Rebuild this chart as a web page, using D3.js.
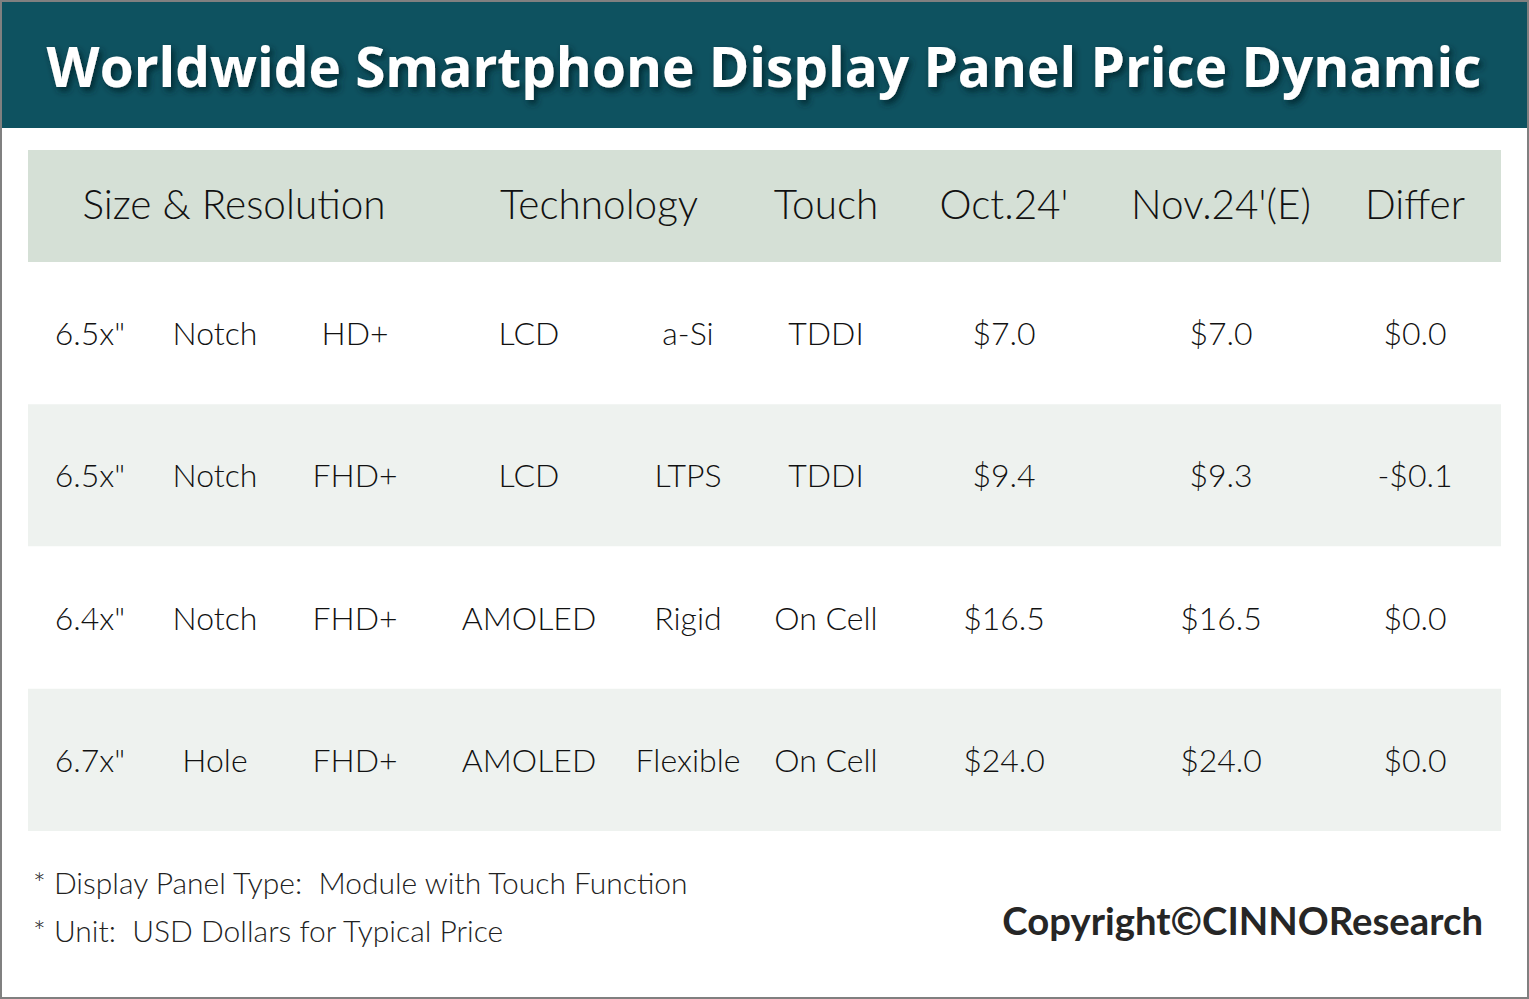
<!DOCTYPE html>
<html><head><meta charset="utf-8">
<script src="https://cdn.jsdelivr.net/npm/d3@7"></script>
<style>body{margin:0;background:#fff;overflow:hidden}text{white-space:pre}</style>
</head><body><svg id="c"></svg>
<script>
// ---- data ----
const title = "Worldwide Smartphone Display Panel Price Dynamic";
const headerLabels = ["Size & Resolution", "Technology", "Touch", "Oct.24'", "Nov.24'(E)", "Differ"];
const sizes = ['6.5x"', '6.5x"', '6.4x"', '6.7x"'];
const shapes = ["Notch", "Notch", "Notch", "Hole"];
const resolutions = ["HD+", "FHD+", "FHD+", "FHD+"];
const displayTypes = ["LCD", "LCD", "AMOLED", "AMOLED"];
const backplanes = ["a-Si", "LTPS", "Rigid", "Flexible"];
const touches = ["TDDI", "TDDI", "On Cell", "On Cell"];
const octPrices = [7.0, 9.4, 16.5, 24.0];
const novPrices = [7.0, 9.3, 16.5, 24.0];
const differ = [0.0, -0.1, 0.0, 0.0];
const notes = ["* Display Panel Type:  Module with Touch Function", "* Unit:  USD Dollars for Typical Price"];
const copyright = "Copyright©CINNOResearch";

// ---- layout ----
const W = 1529, H = 999;
const svg = d3.select("#c").attr("width", W).attr("height", H);
const fmt = v => (v < 0 ? "-" : "") + "$" + Math.abs(v).toFixed(1);

const defs = svg.append("defs");
const f = defs.append("filter").attr("id", "sh").attr("filterUnits", "userSpaceOnUse")
  .attr("x", 0).attr("y", 0).attr("width", W).attr("height", 128);
f.append("feDropShadow").attr("dx", 3).attr("dy", 4).attr("stdDeviation", 3)
  .attr("flood-color", "#00262e").attr("flood-opacity", 0.95);

// header band
svg.append("rect").attr("x", 1).attr("y", 1).attr("width", W - 2).attr("height", 127).attr("fill", "#0E5260");
const tt = svg.append("text").attr("x", 764).attr("y", 87).attr("text-anchor", "middle")
  .attr("font-family", "'Open Sans', sans-serif").attr("font-weight", 700).attr("font-size", 58)
  .attr("fill", "#fff").attr("filter", "url(#sh)")
  .text(title);
// fit title to the reference width
const tw = tt.node().getComputedTextLength();
tt.attr("font-size", 58 * 1435 / tw);

// table
const tableX0 = 28, tableX1 = 1501;
const headTop = 150, headBottom = 262, bodyBottom = 831;
const rowIdx = d3.range(sizes.length);
const y = d3.scaleBand().domain(rowIdx).range([headBottom, bodyBottom]);

const colKeys = ["size", "shape", "res", "disp", "bp", "touch", "oct", "nov", "diff"];
const colX = d3.scaleOrdinal().domain(colKeys).range([90, 215, 355, 529, 688, 826, 1004, 1221, 1415]);
const headX = d3.scaleOrdinal().domain(headerLabels).range([234, 599, 826, 1004, 1221, 1415]);

svg.append("rect").attr("x", tableX0).attr("y", headTop).attr("width", tableX1 - tableX0)
  .attr("height", headBottom - headTop).attr("fill", "#D5E0D6");

svg.selectAll("rect.row").data(rowIdx).join("rect").attr("class", "row")
  .attr("x", tableX0).attr("width", tableX1 - tableX0)
  .attr("y", d => y(d)).attr("height", y.bandwidth())
  .attr("fill", d => d % 2 ? "#EEF2EF" : "#FFFFFF");

const bodyFont = "Lato, 'Open Sans', sans-serif";
svg.selectAll("text.head").data(headerLabels).join("text").attr("class", "head")
  .attr("x", d => headX(d)).attr("y", (headTop + headBottom) / 2 + 13)
  .attr("text-anchor", "middle").attr("font-family", bodyFont).attr("font-weight", 300)
  .attr("font-size", 40.5).attr("fill", "#111").text(d => d);

const cols = {
  size: sizes, shape: shapes, res: resolutions, disp: displayTypes, bp: backplanes,
  touch: touches, oct: octPrices.map(fmt), nov: novPrices.map(fmt), diff: differ.map(fmt)
};
const cells = [];
rowIdx.forEach(r => colKeys.forEach(k => cells.push({ r, k, t: cols[k][r] })));
svg.selectAll("text.cell").data(cells).join("text").attr("class", "cell")
  .attr("x", d => colX(d.k)).attr("y", d => y(d.r) + y.bandwidth() / 2 + 12)
  .attr("text-anchor", "middle").attr("font-family", bodyFont).attr("font-weight", 300)
  .attr("font-size", 32).attr("fill", "#111").text(d => d.t);

// notes
svg.selectAll("text.note").data(notes).join("text").attr("class", "note")
  .attr("x", 33).attr("y", (d, i) => 894 + i * 48)
  .attr("font-family", bodyFont).attr("font-weight", 300).attr("font-size", 30)
  .attr("fill", "#222").text(d => d);

svg.append("text").attr("x", 1483).attr("y", 935).attr("text-anchor", "end")
  .attr("font-family", "Lato, sans-serif").attr("font-weight", 700).attr("font-size", 38.3)
  .attr("fill", "#262626").text(copyright);

// outer border
svg.append("rect").attr("x", 1).attr("y", 1).attr("width", W - 2).attr("height", H - 2)
  .attr("fill", "none").attr("stroke", "#808080").attr("stroke-width", 2);
</script></body></html>
